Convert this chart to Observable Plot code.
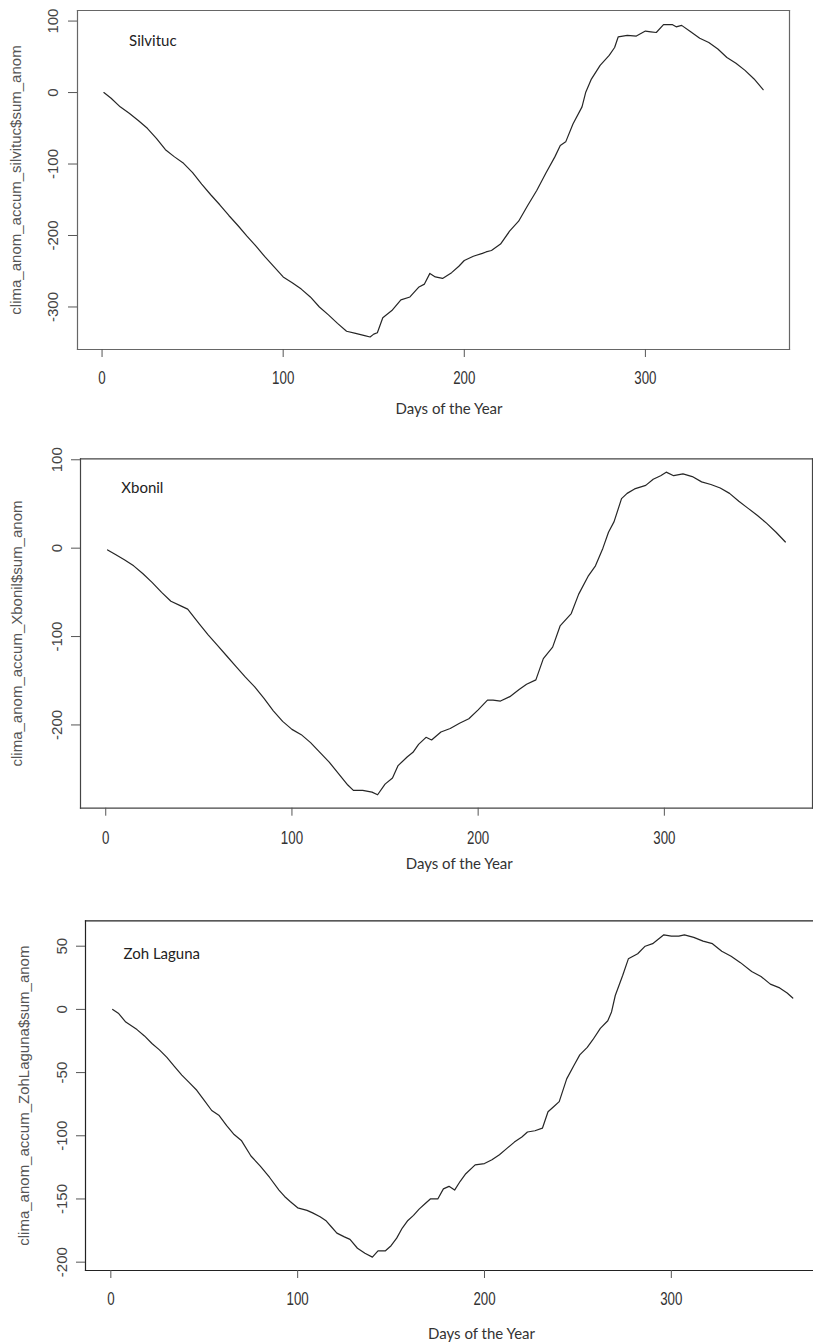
<!DOCTYPE html>
<html>
<head>
<meta charset="utf-8">
<script src="https://cdn.jsdelivr.net/npm/d3@7"></script>
<script src="https://cdn.jsdelivr.net/npm/@observablehq/plot@0.6"></script>
<style>
  html, body { margin: 0; padding: 0; background: #fff; }
  #wrap { width: 813px; height: 1343px; position: relative; overflow: hidden; }
  .panel { position: absolute; left: 0; width: 813px; }
  .panel svg { overflow: visible; display: block; }
</style>
</head>
<body>
<div id="wrap">
  <div class="panel" id="p1" style="top:0px"></div>
  <div class="panel" id="p2" style="top:440px"></div>
  <div class="panel" id="p3" style="top:880px"></div>
</div>
<script>
// ---------- data ----------
const xTicks = [0, 100, 200, 300];
const xLabel = "Days of the Year";

const silvitucTitle = "Silvituc";
const silvitucYLabel = "clima_anom_accum_silvituc$sum_anom";
const silvitucYTicks = [-300, -200, -100, 0, 100];
const silvitucDay  = [1,5,10,15,20,25,30,35,40,45,50,55,60,65,70,75,80,85,90,95,100,105,110,115,120,125,130,135,140,145,148,150,152,155,160,165,170,175,178,181,184,188,193,197,200,205,210,212,215,220,225,230,235,240,245,250,253,256,260,265,267,270,275,280,283,285,290,295,300,303,306,310,315,317,320,325,330,335,340,345,350,355,360,365];
const silvitucAnom = [0,-8,-20,-29,-39,-50,-64,-80,-90,-99,-112,-128,-143,-157,-172,-186,-201,-215,-230,-244,-258,-266,-275,-286,-300,-311,-323,-334,-337,-340,-342,-338,-336,-315,-305,-290,-286,-272,-268,-253,-258,-260,-252,-243,-235,-229,-225,-223,-221,-212,-194,-180,-158,-137,-113,-90,-74,-69,-44,-20,0,18,38,52,63,78,80,79,86,85,84,95,95,92,94,85,76,70,61,49,41,31,19,4];

const xbonilTitle = "Xbonil";
const xbonilYLabel = "clima_anom_accum_Xbonil$sum_anom";
const xbonilYTicks = [-200, -100, 0, 100];
const xbonilDay  = [1,5,10,15,20,25,30,35,40,44,50,55,60,65,70,75,80,85,90,95,100,105,110,115,120,125,130,133,138,143,146,150,154,157,162,165,168,172,175,180,185,190,195,200,205,208,212,217,222,226,231,235,240,244,250,254,259,263,267,270,273,277,280,284,290,294,298,301,305,310,315,320,325,330,335,340,345,350,355,360,365];
const xbonilAnom = [-2,-7,-13,-20,-29,-39,-50,-60,-65,-69,-85,-98,-110,-122,-134,-146,-157,-170,-184,-196,-205,-211,-220,-231,-242,-255,-268,-274,-274,-276,-279,-267,-260,-246,-236,-231,-222,-214,-217,-208,-204,-198,-193,-183,-172,-172,-173,-168,-160,-154,-149,-125,-112,-88,-74,-52,-32,-20,0,18,30,56,62,67,71,78,82,86,82,84,81,75,72,68,62,53,45,37,28,18,7];

const zohTitle = "Zoh Laguna";
const zohYLabel = "clima_anom_accum_ZohLaguna$sum_anom";
const zohYTicks = [-200, -150, -100, -50, 0, 50];
const zohDay  = [1,4,8,14,18,22,26,30,34,38,42,46,50,54,58,62,66,70,75,80,85,90,93,96,100,105,108,112,115,118,121,125,128,132,136,140,143,147,150,153,156,159,162,165,168,171,175,178,181,184,187,190,195,200,204,208,212,216,220,223,227,231,234,237,240,244,248,251,255,258,262,266,268,270,274,277,282,286,290,296,300,304,307,312,317,322,327,332,337,343,348,353,358,362,365];
const zohAnom = [0,-3,-10,-16,-21,-27,-32,-38,-45,-52,-58,-64,-72,-80,-84,-92,-99,-104,-116,-124,-133,-143,-148,-152,-157,-159,-161,-164,-167,-172,-177,-180,-182,-189,-193,-196,-191,-191,-187,-181,-173,-167,-163,-158,-154,-150,-150,-142,-140,-143,-136,-130,-123,-122,-119,-115,-110,-105,-101,-97,-96,-94,-81,-77,-73,-55,-44,-36,-30,-24,-15,-9,-2,11,27,40,44,50,52,59,58,58,59,57,54,52,46,42,37,30,26,20,17,13,9];

// ---------- drawing ----------
function panel(el, cfg) {
  const chart = Plot.plot({
    width: 813,
    height: cfg.height,
    marginTop: cfg.mt, marginBottom: cfg.mb, marginLeft: cfg.ml, marginRight: cfg.mr,
    style: { fontFamily: "'Liberation Sans', Arial, sans-serif", background: "#fff", color: "#333" },
    x: { domain: cfg.xDomain, axis: null },
    y: { domain: cfg.yDomain, axis: null },
    marks: [
      ...cfg.frameSides.map(a => Plot.frame({ anchor: a, stroke: cfg.frameColor, strokeWidth: 1.2 })),
      Plot.axisX({ ticks: xTicks, tickSize: 8, tickPadding: cfg.tp, label: null, stroke: "#555",
        fill: "#333", fontSize: 18, fontFamily: "'Liberation Sans', Arial, sans-serif" }),
      Plot.axisY({ ticks: cfg.yTicks, tickSize: 9, label: null, stroke: "#555", tickFormat: () => "" }),
      Plot.text(cfg.yTicks, { y: d => d, text: d => String(d), frameAnchor: "left", rotate: -90,
        textAnchor: "middle", lineAnchor: "bottom", dx: cfg.ytdx, fontSize: 15, fill: "#444" }),
      Plot.text([cfg.yLabel], { text: d => d, frameAnchor: "left", rotate: -90, textAnchor: "middle",
        lineAnchor: "middle", dx: cfg.yldx, fontSize: 15, fill: "#555" }),
      Plot.text([xLabel], { text: d => d, frameAnchor: "bottom", dx: cfg.xldx, dy: cfg.xldy,
        lineAnchor: "middle", fontFamily: "Lato, 'Open Sans', sans-serif", fontSize: 15, fill: "#333" }),
      Plot.text([cfg.title], { text: d => d, frameAnchor: "top-left", dx: cfg.tdx, dy: cfg.tdy,
        textAnchor: "start", lineAnchor: "middle", fontFamily: "Lato, 'Open Sans', sans-serif", fontSize: 15, fill: "#222" }),
      Plot.line(cfg.vals, { x: cfg.days, y: cfg.vals, stroke: "#262626", strokeWidth: 1.2 })
    ]
  });
  // condense the x tick labels horizontally, like the reference's narrow digits
  chart.querySelectorAll('g[aria-label="x-axis tick label"] text').forEach(t => {
    const tr = t.getAttribute("transform") || "";
    t.setAttribute("transform", tr + " scale(0.74,1)");
  });
  document.getElementById(el).appendChild(chart);
}

panel("p1", {
  height: 440, mt: 10, mb: 91, ml: 77, mr: 24,
  xDomain: [-13.56, 379.56], yDomain: [-359.5, 114.8],
  days: silvitucDay, vals: silvitucAnom, yTicks: silvitucYTicks, yLabel: silvitucYLabel, title: silvitucTitle,
  frameSides: ["top", "right", "bottom", "left"], frameColor: "#666",
  tp: 14, ytdx: -20, yldx: -61.5, xldx: 15.5, xldy: 60, tdx: 51.6, tdy: 31
});
panel("p2", {
  height: 440, mt: 18.3, mb: 72.3, ml: 80, mr: 1,
  xDomain: [-13.56, 379.56], yDomain: [-294.2, 101.1],
  days: xbonilDay, vals: xbonilAnom, yTicks: xbonilYTicks, yLabel: xbonilYLabel, title: xbonilTitle,
  frameSides: ["top", "right", "bottom", "left"], frameColor: "#444",
  tp: 15, ytdx: -19, yldx: -63, xldx: 12.7, xldy: 56.3, tdx: 40.8, tdy: 29.4
});
panel("p3", {
  height: 463, mt: 40.3, mb: 73, ml: 85, mr: 0,
  xDomain: [-13.56, 376.1], yDomain: [-206.6, 70.1],
  days: zohDay, vals: zohAnom, yTicks: zohYTicks, yLabel: zohYLabel, title: zohTitle,
  frameSides: ["top", "bottom", "left"], frameColor: "#222",
  tp: 14, ytdx: -19, yldx: -61, xldx: 32, xldy: 64, tdx: 38, tdy: 33
});
</script>
</body>
</html>
